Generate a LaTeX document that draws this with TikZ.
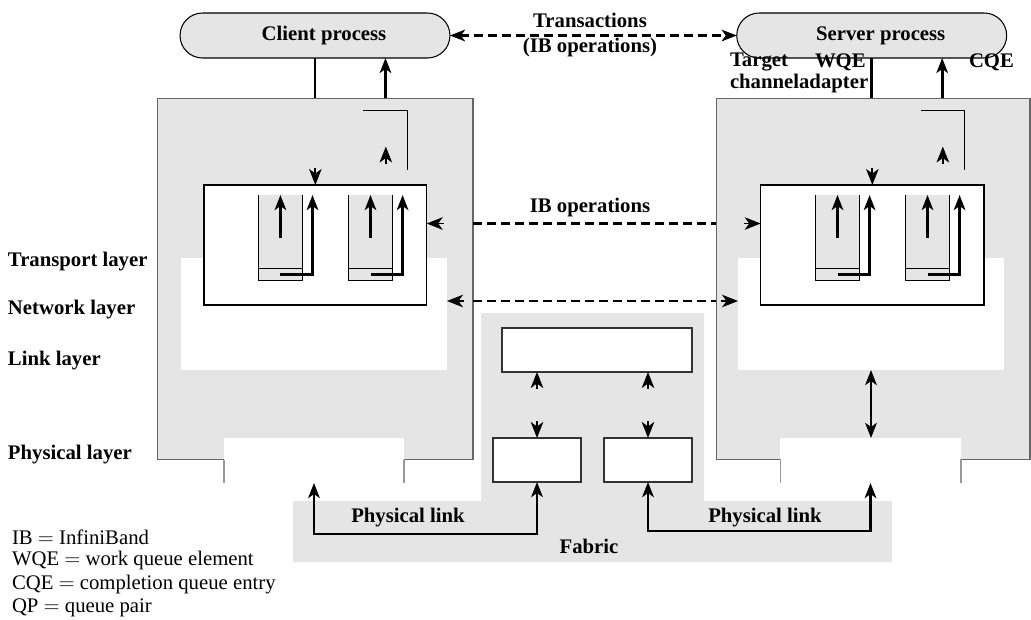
\documentclass[tikz,border=0pt]{standalone}
\usepackage{fontspec}
\setmainfont{Liberation Serif}
\usepackage{tikz}
\usetikzlibrary{arrows.meta, positioning}

\begin{document}
\begin{tikzpicture}[
    x=0.02cm, y=-0.02cm,
    font=\fontsize{11.8}{14}\selectfont,
    >={Stealth[length=0.3cm, width=0.23cm, inset=0.08cm]},
    every node/.style={inner sep=0pt, outer sep=0pt},
    procbox/.style={
        draw,
        line width=0.6pt,
        fill=black!10,
        rounded corners=0.45cm,
        minimum width=5.4cm,
        minimum height=0.9cm,
        font=\fontsize{11.8}{14}\selectfont\bfseries
    },
    nodebox/.style={
        draw=black!60,
        line width=0.6pt,
        fill=black!10
    },
    hole/.style={fill=white},
    cabox/.style={
        draw,
        line width=0.8pt,
        fill=white
    },
    qp/.style={
        fill=black!10,
        minimum width=0.884cm,
        minimum height=1.714cm
    },
    qpslot/.style={
        draw,
        line width=0.6pt,
        minimum width=0.884cm,
        minimum height=0.248cm
    },
    fabbox/.style={
        draw=black!80,
        line width=0.9pt,
        fill=white
    },
    line/.style={draw, line width=1.5pt},
    thinline/.style={draw, line width=0.6pt},
    dline/.style={draw, line width=1.5pt, dash pattern=on 0.18cm off 0.1cm},
    tip/.style={line width=1pt, -{Stealth[length=0.32cm, width=0.25cm, inset=0.09cm]}},
    lbl/.style={font=\fontsize{11.8}{14}\selectfont\bfseries},
    legend/.style={anchor=west}
]
\useasboundingbox (0,0) rectangle (1031,619);

\node[procbox] (client) at (315,35.5) {\hspace*{0.36cm}Client process};
\node[procbox] (server) at (871.7,35.5) {\hspace*{0.36cm}Server process};

\node[nodebox, minimum width=6.31cm, minimum height=7.24cm] (leftbox) at (315.25,279) {};
\node[nodebox, minimum width=6.28cm, minimum height=7.23cm] (rightbox) at (873,278.75) {};

\node[hole, minimum width=5.32cm, minimum height=2.24cm] (lwhite) at (314,314) {};
\node[hole, minimum width=5.32cm, minimum height=2.24cm] (rwhite) at (871,314) {};
\node[hole, minimum width=3.6cm, minimum height=0.9cm] (lnotch) at (314,460.5) {};
\node[hole, minimum width=3.62cm, minimum height=0.9cm] (rnotch) at (870.5,460.5) {};
\draw[black!40, line width=0.6pt] (lnotch.north west |- leftbox.south) -- (lnotch.south west);
\draw[black!40, line width=0.6pt] (lnotch.north east |- leftbox.south) -- (lnotch.south east);
\draw[black!40, line width=0.6pt] (rnotch.north west |- rightbox.south) -- (rnotch.south west);
\draw[black!40, line width=0.6pt] (rnotch.north east |- rightbox.south) -- (rnotch.south east);

\node[cabox, minimum width=4.454cm, minimum height=2.4cm] (lca) at (315.35,245) {};
\node[cabox, minimum width=4.466cm, minimum height=2.4cm] (rca) at (872.35,245) {};

\node[qp] (lqa) at (280.4,237.85) {};
\node[qp] (lqb) at (370.5,237.85) {};
\node[qp] (rqa) at (837.5,237.85) {};
\node[qp] (rqb) at (927.5,237.85) {};
\node[qpslot] (lsa) at (280.4,274.5) {};
\node[qpslot] (lsb) at (370.5,274.5) {};
\node[qpslot] (rsa) at (837.5,274.5) {};
\node[qpslot] (rsb) at (927.5,274.5) {};
\draw[thinline] (lqa.north west) |- (lqa.south east) -- (lqa.north east);
\draw[thinline] (lqb.north west) |- (lqb.south east) -- (lqb.north east);
\draw[thinline] (rqa.north west) |- (rqa.south east) -- (rqa.north east);
\draw[thinline] (rqb.north west) |- (rqb.south east) -- (rqb.north east);

\draw[line, ->] (lqa.center) -- (lqa.north);
\draw[line, ->] (lqb.center) -- (lqb.north);
\draw[line, ->] (rqa.center) -- (rqa.north);
\draw[line, ->] (rqb.center) -- (rqb.north);
\draw[line, ->] (lsa.center) -| ([xshift=0.2cm]lqa.north east);
\draw[line, ->] (lsb.center) -| ([xshift=0.2cm]lqb.north east);
\draw[line, ->] (rsa.center) -| ([xshift=0.2cm]rqa.north east);
\draw[line, ->] (rsb.center) -| ([xshift=0.2cm]rqb.north east);

\draw[line] (client.south) -- (client.south |- leftbox.north);
\draw[line, ->] ([xshift=1.41cm]client.south |- leftbox.north) -- ([xshift=1.41cm]client.south);
\draw[line] (server.south) -- (server.south |- rightbox.north);
\draw[line, ->] ([xshift=1.41cm]server.south |- rightbox.north) -- ([xshift=1.41cm]server.south);

\draw[thinline] ([xshift=0.96cm, yshift=-0.24cm]leftbox.north) -| ([xshift=1.85cm, yshift=0.3cm]lca.north);
\draw[thinline] ([xshift=0.96cm, yshift=-0.24cm]rightbox.north) -| ([xshift=1.85cm, yshift=0.3cm]rca.north);
\draw[tip] ([xshift=1.41cm, yshift=0.43cm]lca.north) -- ([xshift=1.41cm, yshift=0.77cm]lca.north);
\draw[tip] ([xshift=1.41cm, yshift=0.43cm]rca.north) -- ([xshift=1.41cm, yshift=0.77cm]rca.north);
\draw[tip] ([yshift=0.34cm]lca.north) -- (lca.north);
\draw[tip] ([yshift=0.34cm]rca.north) -- (rca.north);

\coordinate (ibl) at ([yshift=0.43cm]lca.east);
\coordinate (ibr) at ([yshift=0.43cm]rca.west);
\draw[dline] (ibl -| leftbox.east) -- (ibr -| rightbox.west);
\draw[tip] ([xshift=0.34cm]ibl) -- (ibl);
\draw[tip] ([xshift=-0.34cm]ibr) -- (ibr);

\coordinate (nwl) at ([yshift=0.26cm]lwhite.east);
\coordinate (nwr) at ([yshift=0.26cm]rwhite.west);
\draw[dline] (nwl -| leftbox.east) -- (nwr -| rightbox.west);
\draw[tip] ([xshift=0.34cm]nwl) -- (nwl);
\draw[tip] ([xshift=-0.34cm]nwr) -- (nwr);

\draw[dline, <->] (client) -- (server);

\fill[black!10] (481,313) -- (704,313) -- (704,501) -- (892,501) -- (892,562)
    -- (293,562) -- (293,501) -- (481,501) -- cycle;
\node[fabbox, minimum width=3.8cm, minimum height=0.88cm] (router) at (597,350) {};
\node[fabbox, minimum width=1.76cm, minimum height=0.88cm] (fabl) at (537,460) {};
\node[fabbox, minimum width=1.76cm, minimum height=0.88cm] (fabr) at (648,460) {};

\draw[tip] ([yshift=-0.34cm]router.south -| fabl.north) -- (router.south -| fabl.north);
\draw[tip] ([yshift=-0.34cm]router.south -| fabr.north) -- (router.south -| fabr.north);
\draw[tip] ([yshift=0.34cm]fabl.north) -- (fabl.north);
\draw[tip] ([yshift=0.34cm]fabr.north) -- (fabr.north);

\draw[line, <->] (lnotch.south) -- ++(0,51) -| (fabl.south);
\draw[line, <->] (fabr.south) -- ++(0,49) -| (rnotch.south);
\draw[line, <->] (rwhite.south) -- (rwhite.south |- rnotch.north);

\node[lbl] (trans) at (590,20) {Transactions};
\node[lbl] (transop) at (590,48) {(IB operations)};
\node[lbl] (ibops) at (590,208) {IB operations};

\node[lbl, anchor=west] (target) at (730,62) {Target};
\node[lbl, anchor=west] (wqe) at (815,62) {WQE};
\node[lbl, anchor=west] (cqe) at (969,62) {CQE};
\node[lbl, anchor=west] (chan) at (730,83.5) {channeladapter};

\node[lbl, anchor=west] (transport) at (8,262) {Transport layer};
\node[lbl, anchor=west] (network) at (8,310) {Network layer};
\node[lbl, anchor=west] (link) at (8,361) {Link layer};
\node[lbl, anchor=west] (physical) at (8,455) {Physical layer};

\node[lbl] (plinkl) at (408,518) {Physical link};
\node[lbl] (plinkr) at (765,518) {Physical link};
\node[lbl] (fabric) at (589,546) {Fabric};

\node[legend] (lgib) at (12,537) {IB $=$ InfiniBand};
\node[legend] (lgwqe) at (12,561) {WQE $=$ work queue element};
\node[legend] (lgcqe) at (12,585) {CQE $=$ completion queue entry};
\node[legend] (lgqp) at (12,608) {QP $=$ queue pair};

\end{tikzpicture}
\end{document}
